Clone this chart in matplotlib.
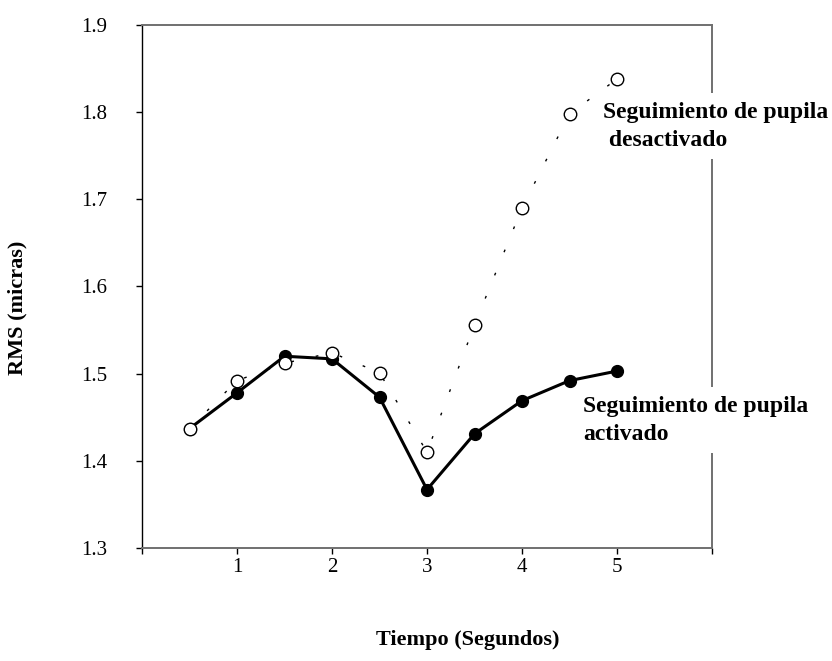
# RMS vs tiempo, seguimiento de pupila activado / desactivado
import matplotlib
matplotlib.use('Agg')
import matplotlib.pyplot as plt

plt.rcParams['font.family'] = ['Liberation Serif', 'DejaVu Serif']

tiempo = [0.5, 1.0, 1.5, 2.0, 2.5, 3.0, 3.5, 4.0, 4.5, 5.0]
rms_activado = [1.437, 1.478, 1.520, 1.517, 1.473, 1.367, 1.431, 1.469, 1.492, 1.503]
rms_desactivado = [1.437, 1.492, 1.512, 1.524, 1.501, 1.410, 1.556, 1.690, 1.798, 1.838]

x_ticks = [0, 1, 2, 3, 4, 5, 6]
x_ticklabels = ['', '1', '2', '3', '4', '5', '']
y_ticks = [1.3, 1.4, 1.5, 1.6, 1.7, 1.8, 1.9]
y_ticklabels = ['1.3', '1.4', '1.5', '1.6', '1.7', '1.8', '1.9']

label_des = 'Seguimiento de pupila\n desactivado'
label_act = 'Seguimiento de pupila\nactivado'

fig = plt.figure(figsize=(8.32, 6.61), dpi=100)
ax = fig.add_axes([142/832, 1 - 548/661, (712 - 142)/832, (548 - 25)/661])

# activado: linea gruesa con puntos negros
ax.plot(tiempo, rms_activado, color='black', lw=2.2, marker='o', markersize=8.5,
        markerfacecolor='black', markeredgecolor='black', zorder=3)
# desactivado: linea punteada con circulos abiertos
ax.plot(tiempo, rms_desactivado, color='black', lw=1.0, linestyle=(0, (2, 16)),
        marker='o', markersize=9, markerfacecolor='white',
        markeredgecolor='black', markeredgewidth=1.0, zorder=4)

ax.set_xlim(0, 6)
ax.set_ylim(1.3, 1.9)
ax.set_xticks(x_ticks)
ax.set_xticklabels(x_ticklabels, fontsize=15)
ax.set_yticks(y_ticks)
ax.set_yticklabels(y_ticklabels, fontsize=15)
ax.tick_params(axis='x', direction='out', length=4.5, width=1, pad=3)
ax.tick_params(axis='y', direction='out', length=4, width=1, pad=21)

ax.spines['left'].set_color('black')
ax.spines['left'].set_linewidth(1.0)
for s in ['bottom', 'top', 'right']:
    ax.spines[s].set_color('#707070')
    ax.spines[s].set_linewidth(1.4)

# etiquetas de las series (fondo blanco tapa el borde derecho)
ax.text(4.85, 1.784, label_des, fontsize=17, fontweight='bold', ha='left',
        va='center', linespacing=1.45, clip_on=False, zorder=5,
        bbox=dict(facecolor='white', edgecolor='none', pad=6))
ax.text(4.64, 1.4465, label_act, fontsize=17, fontweight='bold', ha='left',
        va='center', linespacing=1.45, clip_on=False, zorder=5,
        bbox=dict(facecolor='white', edgecolor='none', pad=6))

fig.text(468/832, 1 - 640/661, 'Tiempo (Segundos)', fontsize=16,
         fontweight='bold', ha='center', va='center')
fig.text(17/832, 1 - 308/661, 'RMS (micras)', fontsize=16, fontweight='bold',
         ha='center', va='center', rotation=90)

fig.savefig('out.png', dpi=100)
